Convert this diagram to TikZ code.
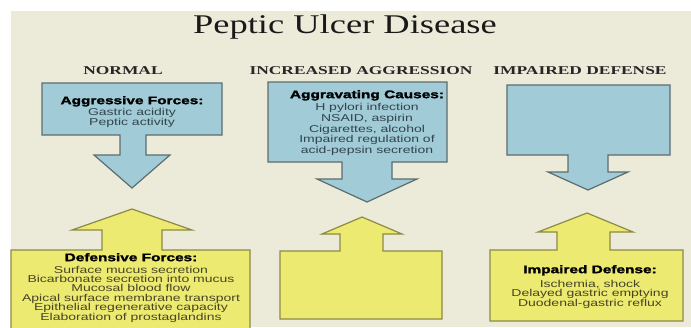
\documentclass[tikz,border=0pt]{standalone}
\usepackage{fontspec}
\newfontfamily\titlefont[FakeStretch=1.35]{Liberation Serif}
\newfontfamily\subfont[FakeStretch=1.45]{Liberation Serif}
\newfontfamily\bodyfont[FakeStretch=1.4,BoldFeatures={FakeBold=2}]{Liberation Sans}
\definecolor{bgbeige}{RGB}{236,235,217}
\definecolor{boxblue}{RGB}{160,203,215}
\definecolor{blueedge}{RGB}{92,108,112}
\definecolor{boxyellow}{RGB}{236,234,112}
\definecolor{yellowedge}{RGB}{140,138,70}
\definecolor{bluetextcol}{RGB}{50,68,78}
\definecolor{yellowtextcol}{RGB}{70,69,36}
\newcommand\boxhead[1]{{\color{black}\bfseries\fontsize{11}{10}\selectfont #1}}
\begin{document}
\begin{tikzpicture}[x=1pt,y=-1pt,
  bluebox/.style={fill=boxblue,draw=blueedge,line width=1.2pt,line join=miter},
  yellowbox/.style={fill=boxyellow,draw=yellowedge,line width=1.2pt,line join=miter},
  titlestyle/.style={font=\titlefont\fontsize{27}{27}\selectfont,text=black!90,inner sep=0pt,anchor=base},
  substyle/.style={font=\subfont\bfseries\fontsize{12}{12}\selectfont,text=black!85,inner sep=0pt,anchor=base},
  bluetext/.style={font=\bodyfont\fontsize{10}{10}\selectfont,text=bluetextcol,align=center,anchor=north,inner sep=0pt},
  yellowtext/.style={font=\bodyfont\fontsize{10}{9.4}\selectfont,text=yellowtextcol,align=center,anchor=north,inner sep=0pt}]
\useasboundingbox (0,0) rectangle (691,327);
\clip (0,0) rectangle (691,327);
\fill[white] (0,0) rectangle (691,327);
\fill[bgbeige] (11,11) rectangle (691,327);

% title and column headings
\node[titlestyle] (title) at (345,33) {Peptic Ulcer Disease};
\node[substyle] (normal) at (123,74.5) {NORMAL};
\node[substyle] (incr) at (361,74.5) {INCREASED AGGRESSION};
\node[substyle] (impd) at (580,74.5) {IMPAIRED DEFENSE};

% blue downward arrow boxes
\path[bluebox] (42,83) -- (222,83) -- (222,135) -- (146,135) -- (146,155) -- (170,155) -- (132,188) -- (94,155) -- (120,155) -- (120,135) -- (42,135) -- cycle;
\path[bluebox] (268,82) -- (447,82) -- (447,162) -- (392,162) -- (392,179) -- (417,179) -- (367,202) -- (317,179) -- (342,179) -- (342,162) -- (268,162) -- cycle;
\path[bluebox] (507,85) -- (670,85) -- (670,155) -- (608,155) -- (608,172) -- (628,172) -- (588,190) -- (548,172) -- (568,172) -- (568,155) -- (507,155) -- cycle;

% yellow upward arrow boxes
\path[yellowbox] (11,335) -- (11,250) -- (102,250) -- (102,230) -- (72,230) -- (132,209) -- (192,230) -- (162,230) -- (162,250) -- (250,250) -- (250,335) -- cycle;
\path[yellowbox] (280,319) -- (280,251) -- (340,251) -- (340,234) -- (322,234) -- (362,217) -- (402,234) -- (383,234) -- (383,251) -- (442,251) -- (442,319) -- cycle;
\path[yellowbox] (490,321) -- (490,250) -- (557,250) -- (557,232) -- (538,232) -- (587,213) -- (633,232) -- (610,232) -- (610,250) -- (683,250) -- (683,321) -- cycle;

% texts
\node[bluetext] (aggr) at (132,96) {\boxhead{Aggressive Forces:}\\[1.5pt] Gastric acidity\\ Peptic activity};
\node[bluetext,font=\bodyfont\fontsize{10}{10.7}\selectfont] (caus) at (367,90) {\boxhead{Aggravating Causes:}\\[1.8pt] H pylori infection\\ NSAID, aspirin\\ Cigarettes, alcohol\\ Impaired regulation of\\ acid-pepsin secretion};
\node[yellowtext] (defn) at (131,253) {\boxhead{Defensive Forces:}\\[2.5pt] Surface mucus secretion\\ Bicarbonate secretion into mucus\\ Mucosal blood flow\\ Apical surface membrane transport\\ Epithelial regenerative capacity\\ Elaboration of prostaglandins};
\node[yellowtext,font=\bodyfont\fontsize{10}{9}\selectfont] (impa) at (590,265) {\boxhead{Impaired Defense:}\\[3.5pt] Ischemia, shock\\ Delayed gastric emptying\\ Duodenal-gastric reflux};
\end{tikzpicture}
\end{document}
